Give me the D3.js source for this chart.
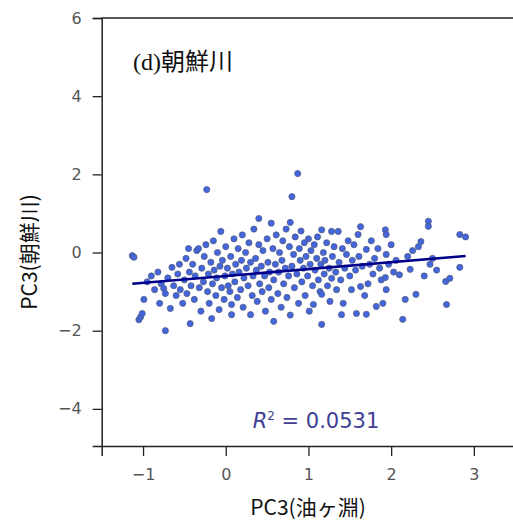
<!DOCTYPE html>
<html>
<head>
<meta charset="utf-8">
<script src="https://cdn.jsdelivr.net/npm/d3@7"></script>
<style>
  body { margin: 0; background: #fff; }
  svg { display: block; }
</style>
</head>
<body>
<svg></svg>
<script>
// PC3 scores: x = 油ヶ淵, y = 朝鮮川
var xVals = [-1.13,-1.11,-1.05,-1.03,-1.01,-0.99,-0.95,-0.9,-0.86,-0.82,-0.8,-0.78,-0.75,-0.73,-0.73,-0.7,-0.67,-0.65,-0.63,-0.6,
  -0.58,-0.56,-0.55,-0.52,-0.5,-0.48,-0.47,-0.45,-0.44,-0.43,-0.42,-0.4,-0.38,-0.37,-0.35,-0.33,-0.32,-0.3,-0.29,-0.27,
  -0.26,-0.24,-0.23,-0.22,-0.21,-0.2,-0.18,-0.17,-0.16,-0.15,-0.14,-0.12,-0.11,-0.1,-0.08,-0.07,-0.06,-0.05,-0.04,-0.02,
  -0.01,0.0,0.02,0.03,0.05,0.06,0.07,0.07,0.08,0.1,0.11,0.12,0.14,0.15,0.16,0.18,0.19,0.2,0.21,0.22,
  0.24,0.25,0.27,0.28,0.3,0.3,0.32,0.33,0.34,0.36,0.37,0.38,0.4,0.4,0.41,0.43,0.44,0.45,0.47,0.48,
  0.5,0.51,0.52,0.53,0.55,0.55,0.57,0.58,0.58,0.6,0.61,0.63,0.64,0.65,0.67,0.68,0.69,0.7,0.72,0.73,
  0.74,0.76,0.77,0.78,0.78,0.8,0.8,0.82,0.83,0.84,0.86,0.87,0.88,0.89,0.9,0.91,0.92,0.94,0.95,0.96,
  0.97,0.99,1.0,1.01,1.02,1.03,1.05,1.06,1.07,1.08,1.1,1.11,1.12,1.14,1.15,1.16,1.16,1.16,1.18,1.19,
  1.2,1.22,1.23,1.25,1.26,1.28,1.28,1.29,1.31,1.33,1.34,1.36,1.37,1.39,1.4,1.41,1.42,1.44,1.46,1.48,
  1.5,1.52,1.53,1.55,1.57,1.58,1.6,1.61,1.63,1.63,1.65,1.68,1.7,1.7,1.72,1.74,1.76,1.78,1.8,1.82,
  1.84,1.86,1.88,1.9,1.93,1.94,1.93,1.94,1.94,1.97,2.0,2.03,2.06,2.1,2.14,2.17,2.2,2.23,2.26,2.3,
  2.33,2.36,2.4,2.45,2.45,2.47,2.5,2.55,2.66,2.67,2.71,2.83,2.83,2.9];
var yVals = [-0.08,-0.12,-1.72,-1.65,-1.56,-1.2,-0.75,-0.6,-0.95,-0.5,-1.3,-0.8,-0.92,-1.05,-2.0,-0.65,-1.43,-0.38,-0.85,-1.1,
  -0.55,-0.3,-0.95,-1.3,-0.7,-0.15,-1.05,0.1,-0.5,-1.82,-0.85,-0.3,-1.2,-0.6,0.05,0.1,-0.9,-1.5,-0.4,-0.75,
  -0.1,0.2,1.61,-1.0,-0.55,-1.3,-0.25,-1.69,-0.8,0.3,-0.45,-1.1,-0.65,0.0,-1.46,-0.35,0.54,-0.9,-0.2,-1.2,
  -0.6,0.15,-0.4,-0.85,-1.0,-0.1,-1.33,-1.59,-0.55,0.35,-0.75,-0.3,-1.15,0.1,-0.5,-0.95,-0.2,0.45,-1.4,-0.65,
  0.0,-0.4,-0.85,0.25,-1.59,-0.25,-1.1,-0.6,0.6,-0.15,-0.45,-1.25,0.87,0.2,-0.8,-0.35,-1.0,0.05,-0.6,-1.5,
  0.35,-0.25,-0.9,-0.5,0.75,-1.2,0.1,-1.76,-0.7,-0.3,0.45,-1.05,-0.5,0.0,-1.4,-0.2,0.3,-0.8,-0.4,0.6,
  -1.15,-0.6,0.15,0.77,-1.6,1.43,-0.35,-0.05,-0.9,0.4,-0.55,2.02,-1.3,0.1,-0.2,0.55,-0.75,-0.4,0.25,-1.1,
  -0.1,-0.6,0.35,-1.5,-0.3,0.05,-0.85,-1.33,0.2,-0.45,-0.15,0.4,-0.7,-1.0,-0.3,0.58,-1.07,-1.84,0.0,-0.55,
  -0.2,0.25,-0.85,-0.4,-1.25,0.54,-0.66,-0.1,0.15,-0.5,-0.95,0.54,-0.25,-0.7,-1.59,0.1,-1.3,-0.4,-0.05,0.3,
  -0.6,-0.95,-0.2,0.2,-0.45,-1.56,0.46,-0.1,0.66,-0.87,-0.35,-1.1,0.08,-1.58,-0.8,-0.3,0.3,-0.55,-0.15,-1.38,
  0.1,-0.4,-0.7,-1.3,0.58,0.46,-0.64,-0.05,-0.95,-0.3,0.2,-0.5,-0.2,-0.57,-1.71,-1.2,-0.1,-0.43,0.05,-1.07,
  0.15,0.28,-0.6,0.8,0.67,-0.3,-0.15,-0.45,-0.74,-1.33,-0.66,0.46,-0.38,0.4];

// regression line as drawn in the figure
var fitIntercept = -0.6;
var fitSlope = 0.176;
var fitRange = [-1.13, 2.9];
var r2Label = "0.0531";

var xTicks = [-1, 0, 1, 2, 3];
var yTicks = [-4, -2, 0, 2, 4, 6];

var width = 513, height = 526;
var svg = d3.select("svg").attr("width", width).attr("height", height);

var x = d3.scaleLinear().domain([-1.5, 3.7]).range([101.7, 101.7 + 5.2 * 82.7]);
var y = d3.scaleLinear().domain([-4.95, 6]).range([446, 18]);

var points = xVals.map(function(d, i) { return {x: d, y: yVals[i]}; });

svg.append("g")
  .selectAll("circle")
  .data(points)
  .enter()
  .append("circle")
  .attr("cx", function(d) { return x(d.x); })
  .attr("cy", function(d) { return y(d.y); })
  .attr("r", 3.1)
  .attr("fill", "#4466dd")
  .attr("stroke", "#50597a")
  .attr("stroke-width", 0.7);

svg.append("line")
  .attr("x1", x(fitRange[0]))
  .attr("y1", y(fitIntercept + fitSlope * fitRange[0]))
  .attr("x2", x(fitRange[1]))
  .attr("y2", y(fitIntercept + fitSlope * fitRange[1]))
  .attr("stroke", "#00008b")
  .attr("stroke-width", 2.6);

var fmt = function(d) { return d < 0 ? "\u2212" + Math.abs(d) : d; };

// axes
var xAxis = svg.append("g")
  .attr("transform", "translate(0,446)")
  .call(d3.axisBottom(x).tickValues(xTicks).tickSize(10).tickPadding(13).tickFormat(fmt));
var yAxis = svg.append("g")
  .attr("transform", "translate(101.7,0)")
  .call(d3.axisLeft(y).tickValues(yTicks).tickSize(9).tickPadding(11).tickFormat(fmt));

[xAxis, yAxis].forEach(function(a) {
  a.select(".domain").attr("stroke", "#222").attr("stroke-width", 1.5);
  a.selectAll(".tick line").attr("stroke", "#222").attr("stroke-width", 1.3);
  a.selectAll(".tick text")
    .attr("fill", "#555")
    .attr("font-family", "DejaVu Sans")
    .attr("font-size", 16);
});

// top spine
svg.append("line")
  .attr("x1", 101.7).attr("x2", width)
  .attr("y1", y(6)).attr("y2", y(6))
  .attr("stroke", "#222").attr("stroke-width", 1.5);

svg.append("text")
  .attr("x", 133).attr("y", 70)
  .attr("font-family", "Liberation Serif, Noto Sans CJK JP")
  .attr("font-size", 24)
  .attr("fill", "#111")
  .text("(d)朝鮮川");

var r2 = svg.append("text")
  .attr("x", 316).attr("y", 428)
  .attr("text-anchor", "middle")
  .attr("font-family", "DejaVu Sans")
  .attr("font-size", 21)
  .attr("fill", "#3f3f95");
r2.append("tspan").attr("font-style", "italic").text("R");
r2.append("tspan").attr("font-size", 12).attr("dy", -8).text("2");
r2.append("tspan").attr("dy", 8).text(" = " + r2Label);

svg.append("text")
  .attr("x", 308).attr("y", 515)
  .attr("text-anchor", "middle")
  .attr("font-family", "Noto Sans CJK JP")
  .attr("font-size", 21)
  .attr("fill", "#111")
  .text("PC3(油ヶ淵)");

svg.append("text")
  .attr("transform", "translate(37,252) rotate(-90)")
  .attr("text-anchor", "middle")
  .attr("font-family", "Noto Sans CJK JP")
  .attr("font-size", 21)
  .attr("fill", "#111")
  .text("PC3(朝鮮川)");
</script>
</body>
</html>
